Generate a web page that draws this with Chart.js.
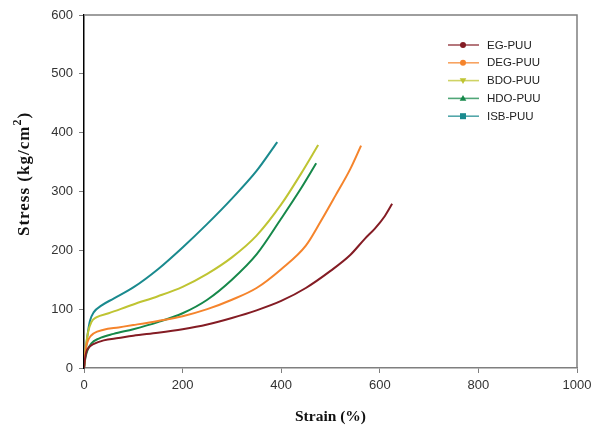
<!DOCTYPE html>
<html lang="en">
<head>
  <meta charset="UTF-8">
  <title>Stress-Strain Curves of PUU</title>
  <script src="https://cdn.jsdelivr.net/npm/chart.js"></script>
  <style>
    html, body {
      margin: 0;
      padding: 0;
      background: #fff;
    }
    canvas {
      display: block;
    }
  </style>
</head>
<body>

<canvas id="stressChart" width="599" height="428"></canvas>

<script>
  // Strain (%) / stress (kg/cm2) pairs for each sample
  const egPuu = [[0,0],[2,15],[5,28],[10,35],[20,41],[40,47],[70,51],[100,55],[150,60],[200,66],[250,74],[300,85],[350,98],[400,114],[450,136],[500,165],[540,192],[570,220],[590,237],[610,258],[625,279]];
  const degPuu = [[0,0],[2,20],[5,38],[10,50],[20,59],[40,65],[70,69],[100,73],[150,80],[200,88],[250,100],[300,116],[350,136],[400,168],[450,208],[480,249],[510,293],[540,338],[562,378]];
  const bdoPuu = [[0,0],[3,30],[8,60],[15,78],[25,86],[50,93],[100,108],[150,122],[200,138],[250,160],[300,188],[350,225],[400,278],[440,330],[475,379]];
  const hdoPuu = [[0,0],[3,18],[7,30],[15,42],[30,50],[60,58],[100,66],[150,78],[200,93],[250,116],[300,150],[350,193],[400,254],[440,305],[471,348]];
  const isbPuu = [[0,0],[3,25],[7,55],[12,80],[20,95],[35,106],[60,118],[100,137],[150,168],[200,205],[250,245],[300,288],[350,335],[392,384]];

  const seriesNames = ['EG-PUU', 'DEG-PUU', 'BDO-PUU', 'HDO-PUU', 'ISB-PUU'];
  const seriesData = [egPuu, degPuu, bdoPuu, hdoPuu, isbPuu];
  const seriesColors = ['#841c24', '#f5842c', '#bfc432', '#16884a', '#1a8a8e'];
  const markerStyles = [
    { style: 'circle', rotation: 0 },
    { style: 'circle', rotation: 0 },
    { style: 'triangle', rotation: 180 },
    { style: 'triangle', rotation: 0 },
    { style: 'rect', rotation: 0 }
  ];

  const strainTicks = [0, 200, 400, 600, 800, 1000];
  const stressTicks = [0, 100, 200, 300, 400, 500, 600];

  const titleFont = '"Liberation Serif", "Times New Roman", serif';

  // Gray frame on top and right of the plot
  const framePlugin = {
    id: 'frame',
    beforeDatasetsDraw(chart) {
      const { ctx, chartArea: a } = chart;
      ctx.save();
      ctx.strokeStyle = '#7f7f7f';
      ctx.lineWidth = 1.5;
      ctx.beginPath();
      ctx.moveTo(a.left, a.top);
      ctx.lineTo(a.right, a.top);
      ctx.lineTo(a.right, a.bottom);
      ctx.stroke();
      ctx.restore();
    }
  };

  // Y axis title with a raised "2" in cm2
  const yTitlePlugin = {
    id: 'yTitle',
    afterDraw(chart) {
      const ctx = chart.ctx;
      const parts = [
        { text: 'Stress (kg/cm', size: 17, rise: 0 },
        { text: '2', size: 12, rise: 7 },
        { text: ')', size: 17, rise: 0 }
      ];
      ctx.save();
      ctx.letterSpacing = '1px';
      ctx.fillStyle = '#111';
      ctx.textBaseline = 'middle';
      let total = 0;
      parts.forEach(p => {
        ctx.font = 'bold ' + p.size + 'px ' + titleFont;
        p.w = ctx.measureText(p.text).width;
        total += p.w;
      });
      ctx.translate(25, 174);
      ctx.rotate(-Math.PI / 2);
      let x = -total / 2;
      parts.forEach(p => {
        ctx.font = 'bold ' + p.size + 'px ' + titleFont;
        ctx.fillText(p.text, x, -p.rise);
        x += p.w;
      });
      ctx.restore();
    }
  };

  // Legend with a line through each marker, inside the plot
  function drawMarker(ctx, kind, x, y, r) {
    ctx.save();
    ctx.translate(x, y);
    ctx.rotate(kind.rotation * Math.PI / 180);
    ctx.beginPath();
    if (kind.style === 'circle') {
      ctx.arc(0, 0, r, 0, Math.PI * 2);
    } else if (kind.style === 'rect') {
      ctx.rect(-r, -r, r * 2, r * 2);
    } else {
      ctx.moveTo(0, -r * 1.15);
      ctx.lineTo(r * 1.1, r * 0.8);
      ctx.lineTo(-r * 1.1, r * 0.8);
      ctx.closePath();
    }
    ctx.fill();
    ctx.restore();
  }

  const legendPlugin = {
    id: 'lineLegend',
    afterDraw(chart) {
      const ctx = chart.ctx;
      const x0 = 448, y0 = 45, rowGap = 17.8;
      ctx.save();
      ctx.font = '11.5px "Liberation Sans", Arial, sans-serif';
      ctx.textBaseline = 'middle';
      seriesNames.forEach((name, i) => {
        const y = y0 + i * rowGap;
        ctx.globalAlpha = 0.75;
        ctx.strokeStyle = seriesColors[i];
        ctx.lineWidth = 1.6;
        ctx.beginPath();
        ctx.moveTo(x0, y);
        ctx.lineTo(x0 + 31, y);
        ctx.stroke();
        ctx.globalAlpha = 1;
        ctx.fillStyle = seriesColors[i];
        drawMarker(ctx, markerStyles[i], x0 + 15, y, 3);
        ctx.fillStyle = '#222';
        ctx.fillText(name, x0 + 39, y + 0.5);
      });
      ctx.restore();
    }
  };

  new Chart(document.getElementById('stressChart'), {
    type: 'scatter',
    data: {
      datasets: seriesNames.map((name, i) => ({
        label: name,
        data: seriesData[i].map(p => ({ x: p[0], y: p[1] })),
        showLine: true,
        borderColor: seriesColors[i],
        backgroundColor: seriesColors[i],
        borderWidth: 2,
        pointRadius: 0,
        cubicInterpolationMode: 'monotone'
      }))
    },
    options: {
      responsive: false,
      animation: false,
      devicePixelRatio: 1,
      layout: { padding: { top: 15, right: 22, left: 0, bottom: 0 } },
      plugins: {
        legend: { display: false },
        tooltip: { enabled: false }
      },
      scales: {
        x: {
          type: 'linear',
          min: 0,
          max: 1000,
          afterBuildTicks: s => { s.ticks = strainTicks.map(v => ({ value: v })); },
          afterFit: s => { s.height = 60; },
          grid: { drawOnChartArea: false, drawTicks: true, tickLength: 5, color: '#7f7f7f' },
          border: { color: '#7f7f7f', width: 1.5 },
          ticks: {
            padding: 5,
            color: '#333',
            callback: v => String(v),
            font: { family: '"Liberation Sans", Arial, sans-serif', size: 13 }
          },
          title: {
            display: true,
            text: 'Strain (%)',
            color: '#111',
            padding: { bottom: 2 },
            font: { family: titleFont, size: 15.5, weight: 'bold' }
          }
        },
        y: {
          type: 'linear',
          min: 0,
          max: 600,
          afterBuildTicks: s => { s.ticks = stressTicks.map(v => ({ value: v })); },
          afterFit: s => { s.width = 84; },
          grid: { drawOnChartArea: false, drawTicks: true, tickLength: 5, color: '#7f7f7f' },
          border: { color: '#000', width: 1.5 },
          ticks: {
            padding: 6,
            color: '#333',
            callback: v => String(v),
            font: { family: '"Liberation Sans", Arial, sans-serif', size: 13 }
          }
        }
      }
    },
    plugins: [framePlugin, yTitlePlugin, legendPlugin]
  });
</script>

</body>
</html>
